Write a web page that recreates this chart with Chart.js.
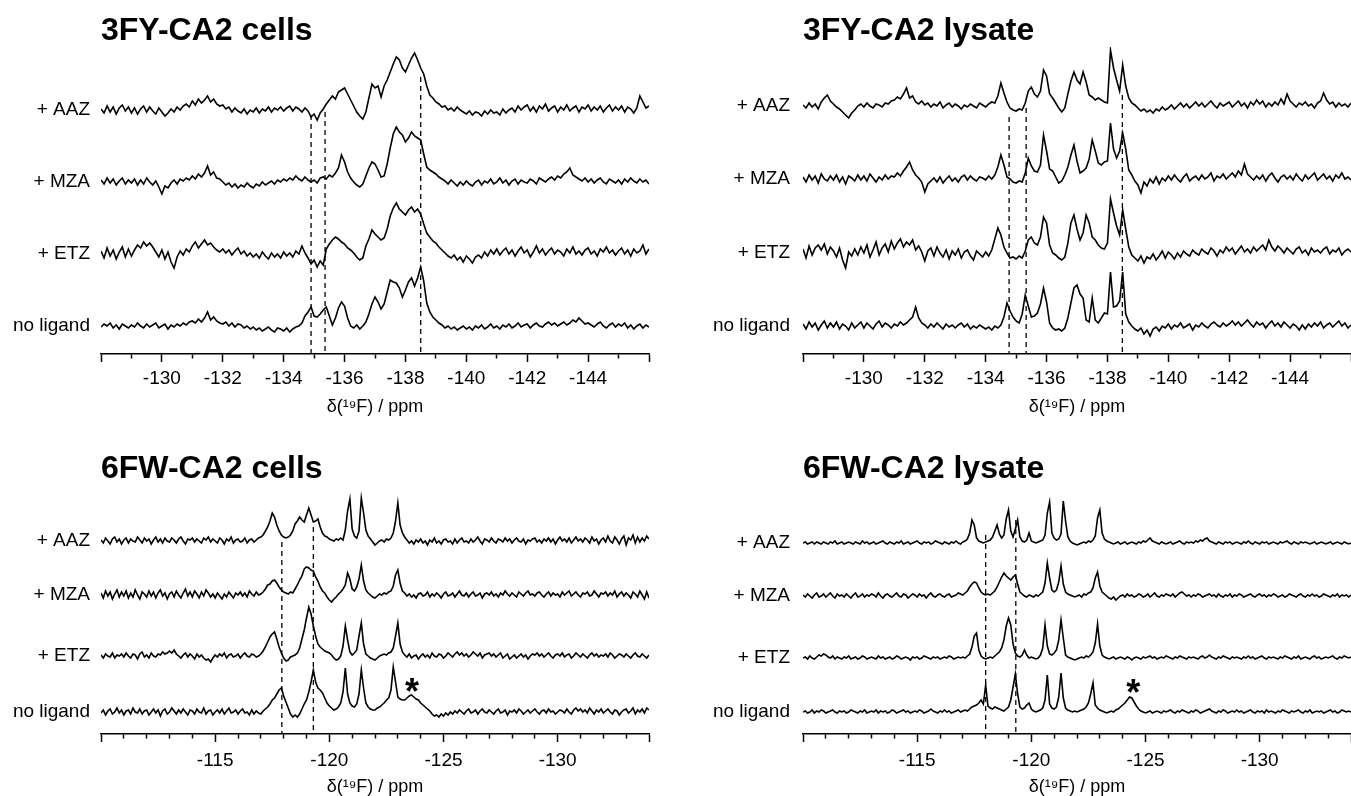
<!DOCTYPE html>
<html>
<head>
<meta charset="utf-8">
<title>19F NMR of CA2 in cells and lysate</title>
<script src="https://cdn.jsdelivr.net/npm/chart.js@4.4.1/dist/chart.umd.min.js"></script>
<style>
  html, body { margin: 0; padding: 0; background: #fff; }
  body { width: 1351px; height: 796px; position: relative; overflow: hidden; }
  canvas { position: absolute; }
</style>
</head>
<body>
<canvas id="tl" width="660" height="420" style="left:0;top:0"></canvas>
<canvas id="tr" width="649" height="420" style="left:702px;top:0"></canvas>
<canvas id="bl" width="660" height="366" style="left:0;top:430px"></canvas>
<canvas id="br" width="649" height="366" style="left:702px;top:430px"></canvas>
<script>
const FONT = "'Liberation Sans', Arial, Helvetica, sans-serif";

// row order bottom -> top
const rowLabels = ['no ligand', '+ ETZ', '+ MZA', '+ AAZ'];

// 3FY spectra: one value every 0.1 ppm from -128.0 to -146.0
const fyStart = -128, fyStep = 0.1;
const fyTickLabels = [-130, -132, -134, -136, -138, -140, -142, -144];
// 6FW spectra: one value every 0.1 ppm from -110.0 to -134.0
const fwStart = -110, fwStep = 0.1;
const fwTickLabels = [-115, -120, -125, -130];

// 3FY-CA2 cells
const fyCellsAAZ = [
  1,-3,4,-2,3,-4,2,5,-1,3,
  -3,2,-4,1,4,-2,3,-1,-4,2,
  -2,-6,-3,1,-2,3,0,4,6,3,
  9,5,11,7,10,14,8,11,6,4,
  5,1,3,-2,2,-1,-3,1,-4,0,
  -2,2,-3,1,-1,3,-2,2,0,3,
  -1,2,4,-1,3,1,-2,2,-1,-7,
  -4,-10,-3,1,6,10,14,11,18,20,
  22,16,10,4,-2,-6,-9,-2,12,26,
  22,24,13,24,30,38,46,53,50,42,
  38,45,52,57,50,42,36,24,15,12,
  8,6,3,4,0,2,-1,3,0,-2,
  -4,-1,-5,-2,-3,-6,-1,-4,0,-3,
  -2,-5,1,-3,0,2,-2,4,0,3,
  5,-1,3,-2,4,1,6,-1,2,4,
  -2,3,0,5,-1,2,4,-2,3,1,
  5,-1,3,0,4,-2,2,5,-1,3,
  0,4,-2,3,1,-3,2,14,8,2,
  4];
const fyCellsMZA = [
  2,-2,4,-1,3,-3,1,4,-2,2,
  -1,3,-3,2,-2,4,0,-3,1,-5,
  -12,-4,-6,-1,2,-2,3,1,4,2,
  6,3,8,5,9,16,7,10,4,3,
  0,-3,-1,-5,-2,-6,-3,-5,-1,-4,
  -6,-2,-4,0,-3,-1,1,-2,2,0,
  3,1,4,2,6,3,1,5,2,0,
  2,-1,4,5,3,7,5,9,14,27,
  20,10,4,0,-3,-5,-2,6,14,20,
  18,12,5,6,18,34,48,55,50,47,
  40,44,50,46,44,42,28,15,12,10,
  8,5,3,1,-2,2,-1,-4,0,-3,
  1,-2,-4,0,2,-3,1,-1,3,-2,
  0,4,-1,2,-3,1,3,-2,2,0,
  -1,3,1,-2,4,2,0,3,5,2,
  6,4,8,10,14,7,5,3,1,4,
  0,3,-1,2,4,0,-2,3,1,-1,
  2,-2,3,0,4,1,-1,3,0,2,
  -2];
const fyCellsETZ = [
  3,-4,6,-2,4,-5,2,7,-3,5,
  -2,4,9,6,12,8,11,7,2,-3,
  4,-5,2,-8,-14,-3,3,-1,5,2,
  8,12,6,10,14,9,11,7,4,2,
  5,1,4,-1,3,6,0,3,-2,1,
  -3,0,-4,2,-2,-5,1,-3,0,-4,
  2,-2,1,-3,3,0,8,1,-4,-10,
  -6,-13,-7,-11,5,10,14,17,15,12,
  10,6,4,1,-3,-6,-4,8,15,24,
  20,17,14,16,25,38,46,51,45,42,
  39,44,47,42,45,40,30,21,17,13,
  11,7,4,1,-2,-4,-1,-6,-3,-8,
  -2,-5,-9,-3,-1,-4,2,-2,4,0,
  5,-1,3,6,0,4,-2,3,7,1,
  4,-3,2,8,1,5,-1,3,6,0,
  4,2,-2,5,1,7,0,3,-1,4,
  6,0,3,-2,5,2,7,1,4,-1,
  3,6,0,4,-2,5,1,3,9,0,
  5];
const fyCellsNone = [
  -1,2,0,3,-2,1,-3,2,0,-2,
  1,-1,3,0,-2,2,-1,1,3,-2,
  0,2,-3,1,-1,2,0,3,1,4,
  5,3,7,4,8,14,6,9,5,3,
  2,4,0,3,-1,2,1,-2,0,-3,
  -1,-4,-2,-5,-3,-1,-4,-6,-2,-3,
  -5,-2,-6,-3,-1,0,3,10,14,19,
  10,9,12,16,19,10,1,8,18,24,
  20,8,0,-2,1,-3,0,4,12,22,
  29,24,17,22,34,46,44,43,38,29,
  36,44,48,40,48,59,45,23,14,9,
  6,3,1,-2,0,-3,-1,-4,-2,0,
  -3,-1,-4,0,-2,1,-3,-1,2,-2,
  0,-3,1,-1,2,-2,0,3,-1,1,
  2,-2,1,3,0,-1,2,4,1,3,
  0,2,4,1,3,6,4,8,5,2,
  3,1,-1,2,4,0,-2,1,3,-1,
  2,0,3,-2,1,-3,0,2,-2,1,
  -1];

// 3FY-CA2 lysate
const fyLysateAAZ = [
  1,-2,3,-1,2,-3,4,8,11,5,
  2,-1,-3,-6,-9,-12,-7,-4,0,2,
  -1,3,0,-2,2,1,-1,3,2,5,
  6,9,7,12,18,8,10,4,2,5,
  1,3,-1,2,0,4,-2,1,3,-1,
  2,0,-3,1,-1,2,0,-2,3,1,
  -1,2,4,3,10,23,13,4,-2,-4,
  -5,-3,-4,3,15,19,12,9,15,36,
  30,12,8,3,-2,-6,-2,12,25,34,
  26,22,34,24,11,9,6,8,6,4,
  3,56,38,26,15,41,20,8,3,1,
  -2,-5,-3,-6,-4,-7,-3,-5,-1,-4,
  -2,1,-3,0,3,-1,2,-2,1,4,
  0,3,-1,2,5,1,-2,3,0,2,
  4,-1,2,5,0,3,-2,4,1,6,
  2,5,-1,3,0,4,1,7,2,12,
  5,2,-1,3,1,4,0,2,-2,3,
  5,13,6,2,4,-1,3,0,2,-1,
  3];
const fyLysateMZA = [
  2,-3,4,-1,3,-4,5,0,-2,3,
  -1,4,-3,2,-5,3,1,-2,4,-1,
  3,-2,5,1,-3,2,-1,4,0,3,
  2,6,3,8,12,17,9,4,1,-3,
  -13,-5,-2,1,-3,2,-4,0,3,-2,
  1,-3,2,4,-1,3,0,-2,2,1,
  -1,3,0,4,12,24,14,2,0,-3,
  -4,-2,-3,6,21,13,8,7,14,44,
  28,10,8,2,-4,-2,4,12,24,34,
  18,6,8,11,20,39,28,16,14,17,
  18,56,30,21,28,46,30,9,4,-2,
  -6,-14,-3,-7,0,-4,2,-5,1,-2,
  3,-1,4,0,-3,2,5,-2,1,3,
  -1,4,0,2,6,-2,3,1,5,0,
  3,6,2,8,4,15,5,2,-1,3,
  0,4,-2,3,6,1,-3,2,4,0,
  3,-1,5,1,-2,4,0,3,6,-1,
  2,5,0,3,-2,4,1,6,0,2,
  -1];
const fyLysateETZ = [
  4,-5,7,-2,5,8,3,9,-1,6,
  2,-4,5,-7,-15,1,-3,4,-2,6,
  0,8,-4,3,11,-2,5,9,1,12,
  4,10,14,6,11,8,13,3,7,1,
  -8,2,5,-3,6,0,-4,3,-6,2,
  -2,4,-5,1,3,-3,-7,2,-1,-4,
  1,-3,3,14,25,18,6,0,-5,-4,
  -6,-3,-5,2,13,16,10,8,16,36,
  30,8,0,-2,-5,-7,-4,10,30,38,
  24,13,20,38,30,16,13,8,5,4,
  10,54,40,27,18,43,24,6,-2,-5,
  -8,-3,-10,-4,-6,-1,-7,-3,2,-5,
  1,-2,-6,0,-4,2,-1,-3,3,0,
  -2,4,1,-1,5,2,-3,3,0,6,
  2,5,-1,3,7,1,4,0,6,2,
  5,8,3,13,6,2,7,4,0,5,
  2,-1,4,6,0,3,-2,5,1,3,
  0,4,6,-1,3,1,5,-2,2,4,
  1];
const fyLysateNone = [
  2,-3,4,-1,3,-4,1,5,-2,3,
  -1,4,-3,2,0,-4,3,-2,1,4,
  -2,3,0,-3,2,5,-1,3,1,-2,
  2,0,4,1,3,6,9,19,8,3,
  1,-2,2,-1,3,0,-3,2,-1,1,
  -2,1,3,-1,2,-3,0,-2,1,-1,
  -3,-1,-4,0,-2,1,9,23,15,9,
  5,3,12,31,20,9,10,13,22,38,
  24,3,-2,-4,-3,-5,-2,8,23,38,
  41,32,28,6,4,28,6,3,8,13,
  12,54,19,20,25,54,12,4,0,-3,
  -5,-2,-8,-4,-10,-3,-1,-5,0,-2,
  2,-3,1,-1,3,-2,0,2,-4,1,
  -1,3,0,-2,2,4,1,-1,3,0,
  2,5,1,4,0,3,6,2,-1,4,
  1,3,-2,2,5,0,3,-1,4,1,
  -2,2,0,-4,1,-3,2,-1,3,0,
  4,-2,1,3,-1,2,5,0,3,-2,
  1];

// 6FW-CA2 cells
const fwCellsAAZ = [
  1,-2,3,0,-3,2,4,-1,2,-3,
  1,3,-2,2,0,-1,4,1,-2,3,
  0,2,-3,1,4,-1,2,-2,3,0,
  -1,3,1,-2,2,4,0,-3,2,1,
  3,-1,2,0,-2,3,1,4,-1,2,
  0,-2,3,1,-3,2,0,4,-2,1,
  2,-1,0,3,-2,1,2,-1,1,3,
  4,6,10,14,20,28,24,16,10,6,
  4,3,4,6,10,17,20,24,21,19,
  26,33,26,19,20,22,14,8,5,4,
  2,1,0,2,1,3,1,11,30,42,
  12,5,3,10,43,28,11,5,2,-1,
  -4,-2,0,1,-1,2,1,3,8,20,
  38,16,8,4,1,-2,0,-3,1,-1,
  2,-2,0,-4,1,-1,3,-2,0,-3,
  1,2,-1,0,-3,2,-2,1,3,-1,
  0,-2,2,-1,1,4,0,-3,2,1,
  -1,3,0,-2,2,1,-1,3,0,2,
  -2,1,3,0,-1,2,-3,1,0,2,
  3,-1,1,-2,2,0,3,-1,2,-3,
  1,4,0,2,-1,3,-2,1,4,0,
  2,-1,3,1,-2,4,0,2,-3,1,
  3,-1,5,0,-2,4,1,-3,2,5,
  -4,3,1,6,-2,4,-1,3,0,5,
  2];
const fwCellsMZA = [
  2,-3,4,-1,3,-4,1,5,-2,3,
  -1,4,-3,2,-2,5,0,-4,3,1,
  -2,4,-1,3,-3,2,5,-1,2,-4,
  1,3,-2,4,0,-3,2,6,-1,3,
  -2,4,1,-3,3,-1,5,2,-2,1,
  -3,2,-1,-4,1,-2,3,0,-3,2,
  0,3,-1,2,-2,4,1,-1,3,0,
  1,3,6,10,11,14,15,12,8,5,
  3,2,1,3,2,6,10,15,19,26,
  28,27,25,24,18,14,8,4,2,-2,
  -5,-7,-4,-2,1,3,6,10,22,16,
  6,4,8,16,30,14,5,2,0,-2,
  -3,-1,1,0,2,1,3,4,9,20,
  25,12,4,2,-1,1,-2,0,-3,1,
  2,-1,0,3,-2,1,-1,2,0,-3,
  1,3,-1,0,2,-2,1,4,0,-1,
  2,-2,1,3,-1,0,2,-3,1,2,
  0,3,-1,1,-2,2,0,4,1,-1,
  2,0,-2,3,1,-1,2,4,0,1,
  -1,2,3,0,-2,1,3,-1,2,0,
  1,-2,3,0,2,4,-1,1,3,0,
  -2,2,1,3,-1,0,4,1,-2,2,
  1,3,-1,2,0,4,-2,1,3,-1,
  2,0,-3,3,1,-2,4,0,-4,3,
  -3];
const fwCellsETZ = [
  1,-2,2,0,-1,3,-2,1,0,2,
  -1,3,0,-2,2,1,-3,2,4,-1,
  1,-2,3,0,-1,2,1,4,2,3,
  5,3,6,2,0,-2,1,3,-1,2,
  0,-3,2,-1,1,-2,-4,-3,-6,-2,
  1,-1,2,0,3,-2,1,2,-1,0,
  2,-2,1,3,0,-1,2,1,-1,0,
  2,5,9,14,19,22,24,17,9,3,
  -2,-5,-4,-1,0,1,3,8,17,26,
  38,49,42,30,20,12,9,7,5,4,
  3,1,-2,-4,-3,0,10,30,16,4,
  1,3,6,20,33,12,2,0,-2,-3,
  -4,-2,0,1,2,1,3,4,8,20,
  33,12,4,1,-1,2,-2,0,1,-3,
  0,2,-1,1,-2,3,0,-1,2,1,
  -2,0,3,1,-1,2,4,1,3,0,
  2,-1,1,4,2,0,3,-2,1,2,
  3,0,2,-1,1,3,-2,0,2,-3,
  -1,1,-2,0,2,-1,1,-3,0,2,
  1,3,0,2,-1,1,3,0,-2,1,
  2,0,3,-1,1,2,-2,0,3,1,
  -1,2,0,-2,1,3,0,2,-1,1,
  0,2,-1,3,1,-2,0,2,1,-1,
  2,0,-2,1,3,0,-1,2,0,-2,
  1];
const fwCellsNone = [
  -1,2,-3,1,3,-2,0,4,-1,2,
  -3,1,2,-2,4,0,-1,3,-2,1,
  2,-3,0,3,-1,2,-4,1,3,-2,
  0,4,1,-2,2,-1,3,0,-3,2,
  1,-2,3,0,-1,4,-2,1,2,-3,
  0,2,-1,3,-2,1,4,-1,0,2,
  -2,1,3,-1,0,-3,2,-2,1,-1,
  -2,1,3,5,8,12,14,18,22,24,
  16,10,4,-2,-5,-3,-5,-2,3,8,
  12,20,30,42,30,24,22,19,14,9,
  6,4,2,3,5,9,20,44,18,9,
  6,5,8,18,42,24,9,5,3,2,
  2,4,5,7,9,12,14,22,45,30,
  15,13,12,12,14,16,17,15,13,12,
  9,7,5,3,1,-2,-4,-3,-5,-2,
  -4,-1,-3,0,-2,1,-1,2,0,-2,
  1,3,-1,0,2,-2,1,3,0,-1,
  2,0,-2,1,3,-1,0,2,-3,1,
  0,2,-1,3,1,-2,0,2,-1,1,
  3,0,-2,1,2,-1,3,0,1,-2,
  0,2,1,-1,3,0,-2,2,4,1,
  3,0,2,-1,4,1,-2,2,0,3,
  -1,1,3,0,-2,2,1,-3,0,2,
  3,-1,1,4,-2,2,0,3,-1,4,
  2];

// 6FW-CA2 lysate
const fwLysateAAZ = [
  0,1,-1,0,1,-1,1,0,-1,1,
  0,-1,1,0,2,-1,0,1,-1,0,
  1,0,-1,1,0,-1,2,0,1,-1,
  0,1,-1,0,1,2,0,-1,1,0,
  -1,1,0,2,-1,0,1,-1,0,1,
  2,0,-1,1,0,1,-1,0,2,1,
  0,-1,1,0,-1,1,0,2,0,-1,
  1,2,4,10,23,18,5,2,1,0,
  1,2,3,6,12,18,9,5,8,24,
  33,12,6,14,23,6,2,1,3,10,
  2,1,0,1,2,3,8,30,41,10,
  5,3,4,9,42,22,6,2,0,-1,
  -2,-1,0,1,0,2,1,3,7,25,
  33,10,4,2,1,0,-1,0,1,-1,
  0,1,-1,0,1,0,-1,1,0,2,
  1,3,5,2,1,0,-1,1,0,-1,
  0,1,-1,0,1,2,0,-1,1,0,
  1,0,2,1,3,2,4,5,2,1,
  0,-1,1,0,-1,1,0,1,-1,0,
  1,0,-1,1,0,2,0,-1,1,0,
  -1,1,0,1,-1,0,1,0,-1,1,
  0,1,2,0,-1,1,0,-1,1,0,
  1,0,-1,0,1,-1,0,1,0,-1,
  0,1,-1,0,1,0,-1,1,0,-1,
  0];
const fwLysateMZA = [
  1,-1,2,0,-2,1,3,-1,0,2,
  -1,1,3,0,-2,2,0,1,-1,2,
  0,-2,1,3,-1,0,2,-1,1,0,
  2,1,-1,3,0,-2,1,2,0,-1,
  1,3,0,-1,2,1,-2,0,2,1,
  -1,2,0,1,-2,1,3,0,-1,1,
  2,0,-1,1,2,-1,0,1,3,2,
  1,3,5,9,12,14,13,8,4,2,
  1,2,1,3,5,9,14,19,23,20,
  18,16,19,21,12,4,2,0,-1,1,
  0,-1,1,0,2,4,13,33,18,6,
  4,6,14,30,12,4,2,1,0,-1,
  0,1,-1,2,1,3,4,8,18,24,
  10,4,2,0,-2,-3,-1,-4,-2,0,
  1,-1,2,0,1,-1,0,2,1,-1,
  0,2,-1,1,3,0,-1,1,0,2,
  1,0,2,-1,1,3,4,2,0,1,
  -1,1,0,2,1,-1,0,1,2,0,
  1,-1,2,0,-1,1,0,2,-1,1,
  0,2,1,-1,0,1,2,0,-1,1,
  2,0,1,-1,1,0,2,1,-1,0,
  1,-1,0,2,1,0,-1,1,2,0,
  -1,1,0,2,0,1,-1,0,2,1,
  0,-1,1,0,2,-1,1,0,1,-1,
  1];
const fwLysateETZ = [
  0,1,-1,2,0,-1,1,3,2,4,
  3,1,0,2,-1,1,0,-1,1,0,
  2,-1,0,1,-1,0,2,1,-1,0,
  1,0,-1,2,0,1,-1,0,1,-1,
  0,2,1,-1,0,1,0,-2,1,0,
  1,-1,0,2,1,0,-1,1,0,1,
  -1,0,1,0,2,1,-1,0,1,0,
  1,0,2,4,11,22,25,8,2,0,
  -1,0,1,0,2,4,6,10,18,32,
  40,33,14,5,2,1,3,8,3,0,
  1,0,-1,0,3,10,33,12,4,3,
  5,8,18,38,20,3,1,0,-1,-2,
  -1,0,1,0,2,1,3,6,15,34,
  12,3,1,0,-1,0,1,-1,0,1,
  0,-1,1,0,-2,0,1,0,-1,1,
  0,1,2,0,1,-1,0,1,0,2,
  1,0,-1,1,0,2,1,0,-1,1,
  0,1,0,-1,1,2,0,1,3,1,
  0,-1,1,0,2,1,0,-1,1,0,
  1,0,-1,1,0,2,0,1,-1,0,
  1,2,0,-1,1,0,1,0,-1,1,
  0,2,1,0,-1,1,0,2,-1,0,
  1,0,-1,1,2,0,1,-1,0,1,
  0,1,2,0,-1,1,0,2,1,0,
  1];
const fwLysateNone = [
  0,1,-1,0,2,-1,1,0,2,1,
  -1,0,1,2,0,-1,1,0,1,-1,
  0,2,1,0,-1,1,0,2,-1,0,
  1,0,2,-1,1,0,1,-1,0,2,
  1,-1,0,1,2,0,1,-1,0,1,
  0,2,1,-1,0,1,3,1,0,-1,
  1,0,2,0,1,-1,0,1,2,0,
  1,2,1,3,5,6,7,9,12,8,
  27,6,4,3,5,4,3,2,1,3,
  5,12,25,38,18,5,3,4,7,9,
  3,1,0,1,2,4,12,37,8,4,
  3,5,15,39,14,4,2,1,0,1,
  0,1,2,3,5,9,18,29,7,4,
  2,1,0,-1,0,1,0,2,3,5,
  7,9,12,15,14,10,6,3,1,0,
  -1,0,1,-1,0,1,0,-1,1,0,
  1,2,0,-1,1,0,2,1,0,-1,
  1,0,2,1,-1,0,1,2,3,1,
  0,-1,1,0,2,1,-1,0,1,0,
  2,0,1,-1,0,1,2,0,-1,1,
  0,1,-1,2,0,1,0,-1,1,0,
  2,1,0,-1,1,0,1,2,0,-1,
  1,0,2,-1,0,1,0,1,-1,0,
  1,2,0,1,-1,0,2,1,0,1,
  0];

// stacking offsets (no ligand, ETZ, MZA, AAZ)
const fyCellsOffsets = [28, 100, 172, 244];
const fyLysateOffsets = [28, 101, 175, 248];
const fwCellsOffsets = [22, 78, 139, 193];
const fwLysateOffsets = [22, 76, 138, 191];

// dashed reference lines: [ppm, top of line]
const fyCellsDashes = [[-134.9, 239], [-135.36, 242], [-138.5, 277]];
const fyLysateDashes = [[-134.77, 237], [-135.33, 246], [-138.49, 259]];
const fwCellsDashes = [[-117.92, 192], [-119.3, 207]];
const fwLysateDashes = [[-118.0, 199], [-119.32, 214]];

// asterisks: [ppm, height]
const fwCellsStars = [[-123.62, 50]];
const fwLysateStars = [[-124.46, 49]];

const starPlugin = {
  id: 'stars',
  afterDatasetsDraw(chart, args, opts) {
    const { ctx, scales: { x, y } } = chart;
    ctx.save();
    ctx.fillStyle = '#000';
    ctx.font = 'bold 36px ' + FONT;
    ctx.textAlign = 'center';
    ctx.textBaseline = 'alphabetic';
    (opts.marks || []).forEach(([ppm, v]) => {
      ctx.fillText('*', x.getPixelForValue(ppm), y.getPixelForValue(v) + 20);
    });
    ctx.restore();
  }
};

function panel(id, o) {
  const sets = o.spectra.map((s, k) => ({
    data: s.map((v, i) => ({ x: o.start - i * o.step, y: o.offsets[k] + v })),
    borderColor: '#000',
    borderWidth: 1.6,
    pointRadius: 0,
    tension: 0
  }));
  o.dashes.forEach(([ppm, top]) => sets.push({
    data: [{ x: ppm, y: top }, { x: ppm, y: 0 }],
    borderColor: '#000',
    borderWidth: 1.3,
    borderDash: [5, 4],
    pointRadius: 0
  }));
  const isMajor = v => o.labels.includes(v) || v === o.min || v === o.max;

  new Chart(document.getElementById(id), {
    type: 'line',
    data: { datasets: sets },
    options: {
      responsive: false,
      animation: false,
      events: [],
      layout: { padding: { right: o.padRight } },
      plugins: {
        legend: { display: false },
        tooltip: { enabled: false },
        title: {
          display: true, text: o.title, align: 'start', fullSize: false, color: '#000',
          font: { family: FONT, size: 32, weight: 'bold', lineHeight: 1 },
          padding: { top: o.titleTop, bottom: 0 }
        },
        stars: { marks: o.stars || [] }
      },
      scales: {
        x: {
          type: 'linear', reverse: true, min: o.min, max: o.max,
          afterBuildTicks: s => {
            const t = [];
            for (let v = o.max; v >= o.min; v--) t.push({ value: v });
            s.ticks = t;
          },
          afterFit: s => {
            s.height = o.axisH;
            s.paddingLeft = 0;
            s.paddingRight = 0;
          },
          ticks: {
            autoSkip: false, maxRotation: 0, padding: o.tickPad, color: '#000',
            font: { family: FONT, size: 19 },
            callback: v => o.labels.includes(v) ? String(v) : ''
          },
          grid: {
            display: true, drawOnChartArea: false, drawTicks: true,
            tickLength: 8, tickWidth: 1.5, tickColor: '#000',
            tickBorderDash: c => isMajor(c.tick.value) ? [] : [4, 40]
          },
          border: { display: true, color: '#000', width: 1.5 },
          title: {
            display: true, text: 'δ(¹⁹F) / ppm', color: '#000',
            font: { family: FONT, size: 18 },
            padding: { top: 0, bottom: o.axisTitlePad }
          }
        },
        y: {
          type: 'linear', min: 0, max: o.yMax,
          afterBuildTicks: s => { s.ticks = o.offsets.map(v => ({ value: v })); },
          afterFit: s => { s.width = 101; },
          ticks: {
            padding: o.labelPad, color: '#000',
            font: { family: FONT, size: 19 },
            callback: v => rowLabels[o.offsets.indexOf(v)]
          },
          grid: { display: false, drawTicks: false },
          border: { display: false }
        }
      }
    },
    plugins: [starPlugin]
  });
}

const topCommon = { start: fyStart, step: fyStep, min: -146, max: -128, labels: fyTickLabels,
  titleTop: 15, yMax: 307, axisH: 66, tickPad: 5, axisTitlePad: 2 };
const bottomCommon = { start: fwStart, step: fwStep, min: -134, max: -110, labels: fwTickLabels,
  titleTop: 23, yMax: 249, axisH: 62, tickPad: 7, axisTitlePad: -2 };

panel('tl', Object.assign({}, topCommon, {
  title: '3FY-CA2 cells', padRight: 11, labelPad: 11,
  spectra: [fyCellsNone, fyCellsETZ, fyCellsMZA, fyCellsAAZ],
  offsets: fyCellsOffsets, dashes: fyCellsDashes
}));
panel('tr', Object.assign({}, topCommon, {
  title: '3FY-CA2 lysate', padRight: 0, labelPad: 13,
  spectra: [fyLysateNone, fyLysateETZ, fyLysateMZA, fyLysateAAZ],
  offsets: fyLysateOffsets, dashes: fyLysateDashes
}));
panel('bl', Object.assign({}, bottomCommon, {
  title: '6FW-CA2 cells', padRight: 11, labelPad: 11,
  spectra: [fwCellsNone, fwCellsETZ, fwCellsMZA, fwCellsAAZ],
  offsets: fwCellsOffsets, dashes: fwCellsDashes, stars: fwCellsStars
}));
panel('br', Object.assign({}, bottomCommon, {
  title: '6FW-CA2 lysate', padRight: 0, labelPad: 13,
  spectra: [fwLysateNone, fwLysateETZ, fwLysateMZA, fwLysateAAZ],
  offsets: fwLysateOffsets, dashes: fwLysateDashes, stars: fwLysateStars
}));
</script>
</body>
</html>
